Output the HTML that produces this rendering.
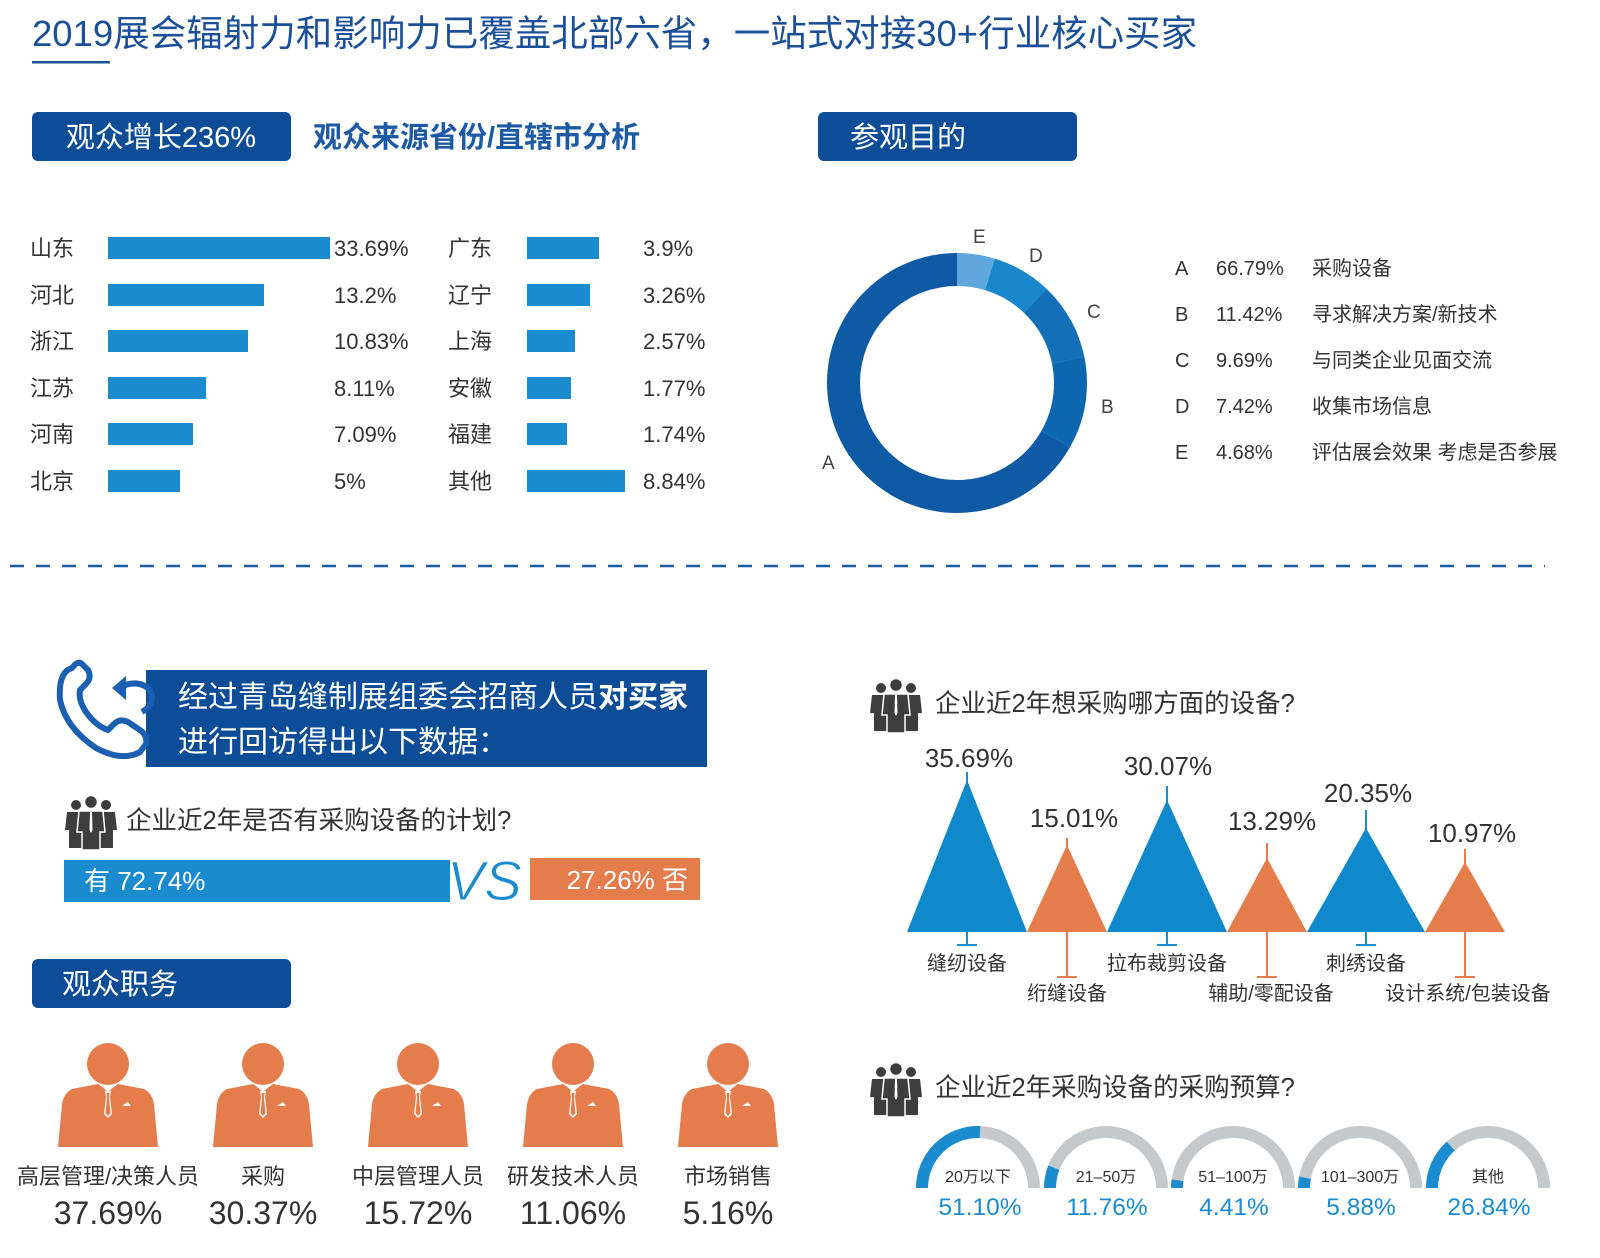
<!DOCTYPE html>
<html><head><meta charset="utf-8"><style>
html,body{margin:0;padding:0;background:#fff;}
svg{display:block;font-family:"Liberation Sans","Noto Sans CJK SC",sans-serif;}
</style></head><body>
<svg width="1600" height="1258" viewBox="0 0 1600 1258" xmlns="http://www.w3.org/2000/svg">
<defs>
<g id="person">
<circle cx="0" cy="-45" r="21" fill="#e57c4c"/>
<path d="M-36,-20 L-10,-25 L0,-18 L10,-25 L36,-20 Q44,-16 46,-5 L50,38 L-50,38 L-46,-5 Q-44,-16 -36,-20Z" fill="#e57c4c"/>
<path d="M-9,-25 L0,-17 L9,-25 L5,-22 L0,-19 L-5,-22Z" fill="#fff"/>
<path d="M-3,-18 L3,-18 L2,-12 L4,5 L0,9 L-4,5 L-2,-12Z" fill="#fff"/>
<path d="M-1.5,-16 L1.5,-16 L1,-11 L2.5,4 L0,7 L-2.5,4 L-1,-11Z" fill="#e57c4c"/>
<path d="M14,-3 L23,-3 L20,-7Z" fill="#fff"/>
</g>
<g id="group" fill="#3d3d3d">
<circle cx="-15" cy="-17" r="5"/><circle cx="15" cy="-17" r="5"/>
<path d="M-24,-10 L-6,-10 L-4,8 L-8,8 L-8,26 L-22,26 L-22,8 L-26,8Z"/>
<path d="M6,-10 L24,-10 L26,8 L22,8 L22,26 L8,26 L8,8 L4,8Z"/>
<circle cx="0" cy="-20" r="6.5" stroke="#fff" stroke-width="1.5"/>
<path d="M-12,-11 L12,-11 L14,10 L9,10 L9,28 L-9,28 L-9,10 L-14,10Z" stroke="#fff" stroke-width="1.5"/>
<path d="M-1,-10 L1,-10 L1.5,8 L0,11 L-1.5,8Z" fill="#fff"/>
</g>
</defs>

<!-- Title -->
<text x="32" y="46" font-size="36.5" fill="#1b4f98">2019展会辐射力和影响力已覆盖北部六省，一站式对接30+行业核心买家</text>
<rect x="32" y="61" width="78" height="2.5" fill="#1b4f98"/>

<!-- Header boxes -->
<rect x="32" y="112" width="259" height="49" rx="6" fill="#0d4d97"/>
<text x="161" y="147" font-size="29" fill="#fff" text-anchor="middle">观众增长236%</text>
<text x="313" y="147" font-size="29" fill="#1d5aa6" font-weight="bold">观众来源省份/直辖市分析</text>
<rect x="818" y="112" width="259" height="49" rx="6" fill="#0d4d97"/>
<text x="850" y="147" font-size="29" fill="#fff">参观目的</text>

<!-- Bars -->
<g font-size="22" fill="#333">
<text x="30" y="256">山东</text><rect x="108" y="237" width="222" height="22" fill="#1b8bd0"/><text x="334" y="256">33.69%</text>
<text x="30" y="303">河北</text><rect x="108" y="284" width="156" height="22" fill="#1b8bd0"/><text x="334" y="303">13.2%</text>
<text x="30" y="349">浙江</text><rect x="108" y="330" width="140" height="22" fill="#1b8bd0"/><text x="334" y="349">10.83%</text>
<text x="30" y="396">江苏</text><rect x="108" y="377" width="98" height="22" fill="#1b8bd0"/><text x="334" y="396">8.11%</text>
<text x="30" y="442">河南</text><rect x="108" y="423" width="85" height="22" fill="#1b8bd0"/><text x="334" y="442">7.09%</text>
<text x="30" y="489">北京</text><rect x="108" y="470" width="72" height="22" fill="#1b8bd0"/><text x="334" y="489">5%</text>
<text x="448" y="256">广东</text><rect x="527" y="237" width="72" height="22" fill="#1b8bd0"/><text x="643" y="256">3.9%</text>
<text x="448" y="303">辽宁</text><rect x="527" y="284" width="63" height="22" fill="#1b8bd0"/><text x="643" y="303">3.26%</text>
<text x="448" y="349">上海</text><rect x="527" y="330" width="48" height="22" fill="#1b8bd0"/><text x="643" y="349">2.57%</text>
<text x="448" y="396">安徽</text><rect x="527" y="377" width="44" height="22" fill="#1b8bd0"/><text x="643" y="396">1.77%</text>
<text x="448" y="442">福建</text><rect x="527" y="423" width="40" height="22" fill="#1b8bd0"/><text x="643" y="442">1.74%</text>
<text x="448" y="489">其他</text><rect x="527" y="470" width="98" height="22" fill="#1b8bd0"/><text x="643" y="489">8.84%</text>
</g>

<!-- Donut -->
<g transform="rotate(-90 957 383)" fill="none" stroke-width="33">
<circle cx="957" cy="383" r="113.5" stroke="#5ea6dc" stroke-dasharray="33.4 679.7" stroke-dashoffset="0"/>
<circle cx="957" cy="383" r="113.5" stroke="#1a86cc" stroke-dasharray="52.9 660.2" stroke-dashoffset="-33.4"/>
<circle cx="957" cy="383" r="113.5" stroke="#136fb8" stroke-dasharray="69.1 644" stroke-dashoffset="-86.3"/>
<circle cx="957" cy="383" r="113.5" stroke="#0d66b0" stroke-dasharray="81.4 631.7" stroke-dashoffset="-155.4"/>
<circle cx="957" cy="383" r="113.5" stroke="#0f5aa4" stroke-dasharray="476.3 236.8" stroke-dashoffset="-236.8"/>
</g>
<g font-size="19" fill="#444">
<text x="973" y="243">E</text><text x="1029" y="262">D</text><text x="1087" y="318">C</text><text x="1101" y="413">B</text><text x="822" y="469">A</text>
</g>
<g font-size="20" fill="#333">
<text x="1175" y="275">A</text><text x="1216" y="275">66.79%</text><text x="1312" y="275">采购设备</text>
<text x="1175" y="321">B</text><text x="1216" y="321">11.42%</text><text x="1312" y="321">寻求解决方案/新技术</text>
<text x="1175" y="367">C</text><text x="1216" y="367">9.69%</text><text x="1312" y="367">与同类企业见面交流</text>
<text x="1175" y="413">D</text><text x="1216" y="413">7.42%</text><text x="1312" y="413">收集市场信息</text>
<text x="1175" y="459">E</text><text x="1216" y="459">4.68%</text><text x="1312" y="459">评估展会效果 考虑是否参展</text>
</g>

<!-- dashed line -->
<line x1="10" y1="566" x2="1545" y2="566" stroke="#1d5aa6" stroke-width="2.5" stroke-dasharray="14 12"/>

<!-- Phone banner -->
<rect x="146" y="670" width="561" height="97" fill="#0d4d97"/>
<text x="178" y="707" font-size="30" fill="#fff">经过青岛缝制展组委会招商人员<tspan font-weight="bold">对买家</tspan></text>
<text x="178" y="752" font-size="30" fill="#fff">进行回访得出以下数据：</text>
<path d="M72,668 Q58,672 60,700 Q66,728 96,748 Q122,762 140,752 L146,744 Q148,736 140,730 L128,722 Q120,718 114,724 L108,730 Q96,726 86,712 Q78,700 80,690 L86,684 Q92,678 88,670 L82,664 Q78,660 72,668Z" fill="none" stroke="#1a5fb0" stroke-width="6" stroke-linejoin="round"/>
<path d="M118,688 Q138,678 150,690 Q156,704 142,712" fill="none" stroke="#1a5fb0" stroke-width="6"/>
<path d="M112,688 L126,676 L126,700Z" fill="#1a5fb0"/>

<!-- Q1 -->
<use href="#group" transform="translate(91 822)"/>
<text x="126" y="829" font-size="25.5" fill="#333">企业近2年是否有采购设备的计划?</text>
<rect x="64" y="860" width="386" height="42" fill="#1b8bd0"/>
<text x="84" y="890" font-size="26" fill="#fff">有 72.74%</text>
<rect x="530" y="858" width="170" height="42" fill="#e57c4c"/>
<text x="688" y="889" font-size="26" fill="#fff" text-anchor="end">27.26% 否</text>
<text x="447" y="900" font-size="56" font-style="italic" fill="#1b8bd0" stroke="#fff" stroke-width="1">VS</text>

<!-- 观众职务 -->
<rect x="32" y="959" width="259" height="49" rx="6" fill="#0d4d97"/>
<text x="62" y="994" font-size="29" fill="#fff">观众职务</text>
<use href="#person" transform="translate(108 1109)"/>
<use href="#person" transform="translate(263 1109)"/>
<use href="#person" transform="translate(418 1109)"/>
<use href="#person" transform="translate(573 1109)"/>
<use href="#person" transform="translate(728 1109)"/>
<g font-size="22" fill="#333" text-anchor="middle">
<text x="108" y="1184">高层管理/决策人员</text><text x="263" y="1184">采购</text><text x="418" y="1184">中层管理人员</text><text x="573" y="1184">研发技术人员</text><text x="728" y="1184">市场销售</text>
</g>
<g font-size="32" fill="#333" text-anchor="middle">
<text x="108" y="1224">37.69%</text><text x="263" y="1224">30.37%</text><text x="418" y="1224">15.72%</text><text x="573" y="1224">11.06%</text><text x="728" y="1224">5.16%</text>
</g>

<!-- Q2 triangles -->
<use href="#group" transform="translate(896 705)"/>
<text x="935" y="712" font-size="25.5" fill="#333">企业近2年想采购哪方面的设备?</text>
<g stroke-width="2">
<line x1="967" y1="772" x2="967" y2="945" stroke="#1b8bd0"/><line x1="957" y1="945" x2="977" y2="945" stroke="#1b8bd0"/>
<line x1="1067" y1="838" x2="1067" y2="977" stroke="#e57c4c"/><line x1="1057" y1="977" x2="1077" y2="977" stroke="#e57c4c"/>
<line x1="1167" y1="786" x2="1167" y2="945" stroke="#1b8bd0"/><line x1="1157" y1="945" x2="1177" y2="945" stroke="#1b8bd0"/>
<line x1="1267" y1="843" x2="1267" y2="977" stroke="#e57c4c"/><line x1="1257" y1="977" x2="1277" y2="977" stroke="#e57c4c"/>
<line x1="1366" y1="810" x2="1366" y2="945" stroke="#1b8bd0"/><line x1="1356" y1="945" x2="1376" y2="945" stroke="#1b8bd0"/>
<line x1="1465" y1="849" x2="1465" y2="977" stroke="#e57c4c"/><line x1="1455" y1="977" x2="1475" y2="977" stroke="#e57c4c"/>
</g>
<polygon points="907,932 967,780 1027,932" fill="#0f88cc"/>
<polygon points="1027,932 1067,845 1107,932" fill="#e57c4c"/>
<polygon points="1107,932 1167,800 1227,932" fill="#0f88cc"/>
<polygon points="1227,932 1267,858 1307,932" fill="#e57c4c"/>
<polygon points="1307,932 1366,828 1425,932" fill="#0f88cc"/>
<polygon points="1425,932 1465,862 1505,932" fill="#e57c4c"/>
<g font-size="26" fill="#333" text-anchor="middle">
<text x="969" y="767">35.69%</text><text x="1074" y="827">15.01%</text><text x="1168" y="775">30.07%</text>
<text x="1272" y="830">13.29%</text><text x="1368" y="802">20.35%</text><text x="1472" y="842">10.97%</text>
</g>
<g font-size="20" fill="#333" text-anchor="middle">
<text x="967" y="970">缝纫设备</text><text x="1067" y="1000">绗缝设备</text><text x="1167" y="970">拉布裁剪设备</text>
<text x="1271" y="1000">辅助/零配设备</text><text x="1366" y="970">刺绣设备</text><text x="1468" y="1000">设计系统/包装设备</text>
</g>

<!-- Q3 gauges -->
<use href="#group" transform="translate(896 1089)"/>
<text x="935" y="1096" font-size="25.5" fill="#333">企业近2年采购设备的采购预算?</text>
<g fill="none" stroke-width="12">
<path d="M922,1188 A56,56 0 0 1 1034,1188" stroke="#c5c9cb"/><path d="M922,1188 A56,56 0 0 1 980,1132" stroke="#1b8bd0"/>
<path d="M1050,1188 A56,56 0 0 1 1162,1188" stroke="#c5c9cb"/><path d="M1050,1188 A56,56 0 0 1 1053.8,1167.7" stroke="#1b8bd0"/>
<path d="M1177,1188 A56,56 0 0 1 1289,1188" stroke="#c5c9cb"/><path d="M1177,1188 A56,56 0 0 1 1177.5,1180.3" stroke="#1b8bd0"/>
<path d="M1304,1188 A56,56 0 0 1 1416,1188" stroke="#c5c9cb"/><path d="M1304,1188 A56,56 0 0 1 1305,1177.7" stroke="#1b8bd0"/>
<path d="M1432,1188 A56,56 0 0 1 1544,1188" stroke="#c5c9cb"/><path d="M1432,1188 A56,56 0 0 1 1450.7,1146.2" stroke="#1b8bd0"/>
</g>
<g font-size="16" fill="#333" text-anchor="middle">
<text x="978" y="1182">20万以下</text><text x="1106" y="1182">21–50万</text><text x="1233" y="1182">51–100万</text><text x="1360" y="1182">101–300万</text><text x="1488" y="1182">其他</text>
</g>
<g font-size="24.5" fill="#1b8bd0" text-anchor="middle">
<text x="980" y="1215">51.10%</text><text x="1107" y="1215">11.76%</text><text x="1234" y="1215">4.41%</text><text x="1361" y="1215">5.88%</text><text x="1489" y="1215">26.84%</text>
</g>
</svg>
</body></html>
